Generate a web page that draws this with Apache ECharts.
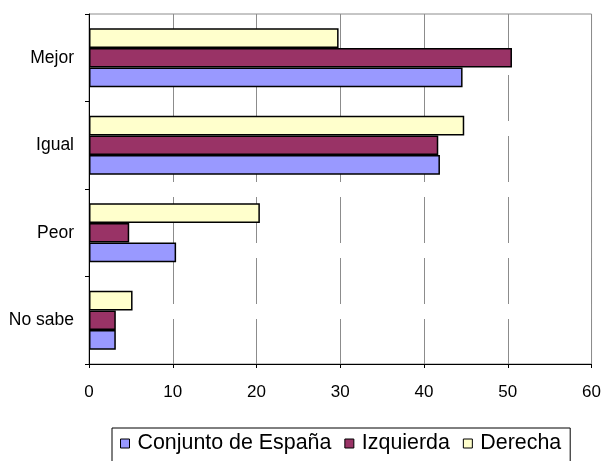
<!DOCTYPE html>
<html>
<head>
<meta charset="utf-8">
<script src="https://cdn.jsdelivr.net/npm/echarts@6/dist/echarts.min.js"></script>
<style>
  html, body { margin: 0; padding: 0; background: #fff; }
  #main { width: 604px; height: 461px; }
</style>
</head>
<body>
<div id="main"></div>
<script>
const categories = ['Mejor', 'Igual', 'Peor', 'No sabe']
const seriesNames = ['Conjunto de España', 'Izquierda', 'Derecha']
const conjunto = [44.6, 41.9, 10.4, 3.2]
const izquierda = [50.5, 41.7, 4.8, 3.2]
const derecha = [29.8, 44.8, 20.4, 5.2]
const xTicks = [0, 10, 20, 30, 40, 50, 60]

const colors = ['#9999ff', '#993366', '#ffffcc']
const font = 'Liberation Sans, Arial, sans-serif'

function barSeries (name, data, color) {
  return {
    name: name,
    type: 'bar',
    data: data,
    barGap: 0,
    barCategoryGap: '32.6%',
    itemStyle: {
      color: color,
      borderColor: '#000',
      borderWidth: 1.5
    }
  }
}

let myChart = echarts.init(document.getElementById('main'), null, { renderer: 'canvas' })
let option = {
  animation: false,
  backgroundColor: '#fff',
  grid: {
    left: 89,
    right: 11,
    top: 14,
    bottom: 97,
    show: true,
    borderColor: '#8c8c8c',
    borderWidth: 1
  },
  legend: {
    data: seriesNames,
    left: 112,
    top: 428,
    orient: 'horizontal',
    itemWidth: 9,
    itemHeight: 9,
    itemGap: 13,
    padding: [5, 9, 9, 8],
    borderColor: '#000',
    borderWidth: 1,
    textStyle: {
      fontFamily: font,
      fontSize: 21.4,
      color: '#000',
      padding: [0, 0, 0, 3]
    },
    itemStyle: {
      borderColor: '#000',
      borderWidth: 1
    },
    icon: 'rect'
  },
  xAxis: {
    type: 'value',
    min: xTicks[0],
    max: xTicks[xTicks.length - 1],
    interval: 10,
    axisLine: { show: true, lineStyle: { color: '#000', width: 1 } },
    axisTick: { show: true, length: 4, lineStyle: { color: '#000' } },
    axisLabel: {
      color: '#000',
      fontFamily: font,
      fontSize: 17,
      margin: 20
    },
    splitLine: {
      show: true,
      lineStyle: { color: '#8c8c8c', width: 1, type: [46, 15] }
    }
  },
  yAxis: {
    type: 'category',
    data: categories,
    inverse: true,
    axisLine: { show: true, lineStyle: { color: '#000', width: 1 } },
    axisTick: { show: true, length: 4, lineStyle: { color: '#000' } },
    axisLabel: {
      color: '#000',
      fontFamily: font,
      fontSize: 17.5,
      margin: 15
    },
    splitLine: { show: false }
  },
  // series order reversed so that Derecha sits on top inside each group
  series: [
    barSeries(seriesNames[2], derecha, colors[2]),
    barSeries(seriesNames[1], izquierda, colors[1]),
    barSeries(seriesNames[0], conjunto, colors[0])
  ]
}
myChart.setOption(option)
</script>
</body>
</html>
